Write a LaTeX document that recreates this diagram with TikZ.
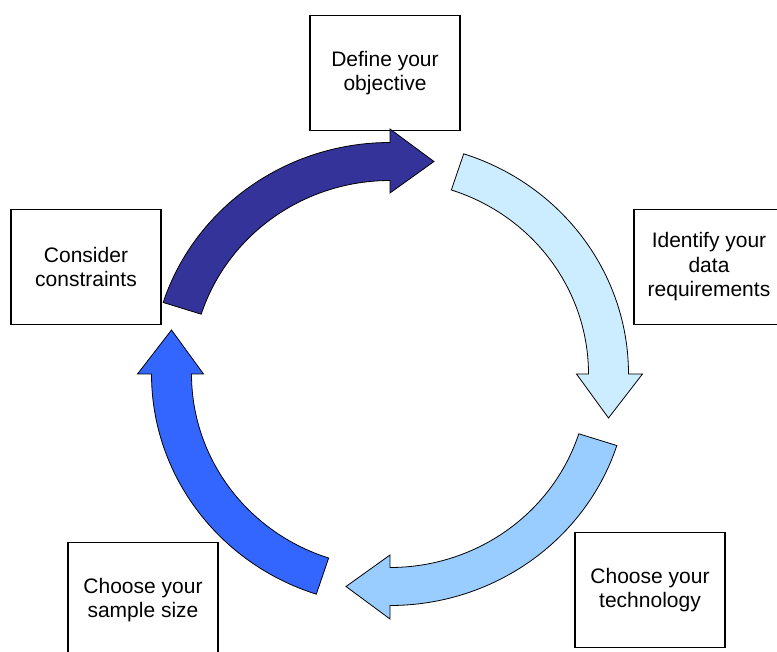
\documentclass[tikz,border=0pt]{standalone}
\usepackage{fontspec}
\setmainfont{Liberation Sans}
\usetikzlibrary{calc}

\definecolor{cycnavy}{HTML}{333399}
\definecolor{cycpale}{HTML}{CCECFF}
\definecolor{cycsky}{HTML}{99CCFF}
\definecolor{cycroyal}{HTML}{3366FF}

\begin{document}
\begin{tikzpicture}[x=1pt, y=1pt]
	\clip (0,0) rectangle (777,-652);
	\coordinate (hub) at (390,-374);

	\begin{scope}
		\tikzstyle{every node}=[draw, line width=1.5pt, align=center, inner sep=0pt, minimum width=150pt, minimum height=115pt, font=\fontsize{21}{24.5}\selectfont]

		\node (obj)  at (385,-73)  {Define your\\objective};
		\node (req)  at (709,-267) {Identify your\\data\\requirements};
		\node (tech) at (650,-590) {Choose your\\technology};
		\node (samp) at (143,-600) {Choose your\\sample size};
		\node (cons) at (86,-267)  {Consider\\constraints};
	\end{scope}

	% block arrows round the hub, head at \a, tail 72 degrees back
	\foreach \a/\col in {90/cycnavy, 0/cycpale, -90/cycsky, 180/cycroyal} {
		\draw [fill=\col, line width=0.8pt, line join=miter]
			($(hub)+(\a+72:238.5 and 231.5)$) arc[start angle=\a+72, end angle=\a, x radius=238.5, y radius=231.5]
			-- ($(hub)+(\a:252.5 and 245)$)
			-- ($(hub)+(\a:218.5 and 212.5)+({44*sin(\a)},{-44*cos(\a)})$)
			-- ($(hub)+(\a:186.5 and 181)$)
			-- ($(hub)+(\a:198.5 and 193.5)$) arc[start angle=\a, end angle=\a+72, x radius=198.5, y radius=193.5]
			-- cycle;
	}
\end{tikzpicture}
\end{document}
